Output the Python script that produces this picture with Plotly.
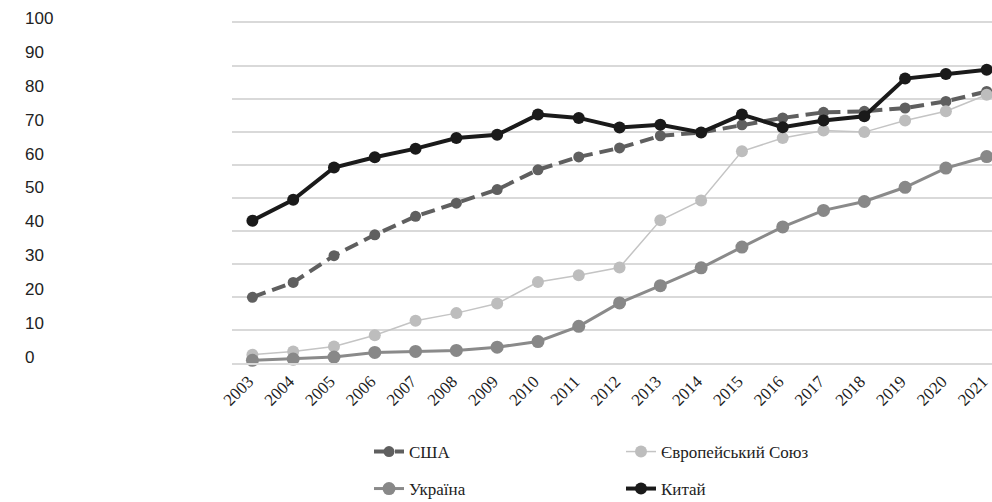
import plotly.graph_objects as go

# Years on the category axis
years = [str(y) for y in range(2003, 2022)]

# Series values (per cent)
usa = [19.9, 24.4, 32.5, 38.8, 44.4, 48.4, 52.5, 58.5, 62.4, 65.1,
       68.8, 69.8, 72.1, 74.2, 75.9, 76.2, 77.2, 79.2, 82.2]
eu = [2.5, 3.5, 5.0, 8.4, 12.8, 15.1, 18.0, 24.5, 26.6, 28.9,
      43.2, 49.2, 64.1, 68.1, 70.4, 69.9, 73.4, 76.2, 81.2]
ukraine = [0.8, 1.2, 1.8, 3.2, 3.5, 3.8, 4.8, 6.5, 11.1, 18.2,
           23.4, 28.8, 35.1, 41.2, 46.2, 48.9, 53.2, 59.0, 62.5]
china = [43.1, 49.4, 59.2, 62.3, 64.9, 68.1, 69.1, 75.2, 74.2, 71.3,
         72.1, 69.8, 75.2, 71.4, 73.4, 74.7, 86.1, 87.5, 88.8]

# Value-axis labels
y_ticks = [0, 10, 20, 30, 40, 50, 60, 70, 80, 90, 100]
grid_ticks = [0, 10, 20, 30, 40, 50, 60, 70, 80, 90]

W, H = 992, 502
SERIF = "Liberation Serif, Times New Roman, serif"
SANS = "Liberation Sans, Arial, sans-serif"
GRID = "#d9d9d9"

fig = go.Figure()

fig.add_trace(go.Scatter(
    x=years, y=usa, name="США", mode="lines+markers",
    line=dict(color="#5f5f5f", width=4, dash="14px,7px"),
    marker=dict(color="#5f5f5f", size=11),
    legend="legend", cliponaxis=False,
))
fig.add_trace(go.Scatter(
    x=years, y=eu, name="Європейський Союз", mode="lines+markers",
    line=dict(color="#c4c4c4", width=1.5),
    marker=dict(color="#bdbdbd", size=12),
    legend="legend", cliponaxis=False,
))
fig.add_trace(go.Scatter(
    x=years, y=ukraine, name="Україна", mode="lines+markers",
    line=dict(color="#8a8a8a", width=3),
    marker=dict(color="#888888", size=13),
    legend="legend2", cliponaxis=False,
))
fig.add_trace(go.Scatter(
    x=years, y=china, name="Китай", mode="lines+markers",
    line=dict(color="#1a1a1a", width=4),
    marker=dict(color="#1a1a1a", size=12),
    legend="legend2", cliponaxis=False,
))
# Carrier for the separate label axis on the far left
fig.add_trace(go.Scatter(
    x=[], y=[], xaxis="x", yaxis="y2", showlegend=False, hoverinfo="skip",
))

plot_left = 232
plot_top = 23
plot_bottom = 363

legend_common = dict(
    orientation="h", x=369 / W, xanchor="left",
    entrywidth=207, entrywidthmode="pixels",
    font=dict(family=SERIF, size=17, color="#222"),
    bgcolor="rgba(0,0,0,0)",
)

fig.update_layout(
    width=W, height=H,
    margin=dict(l=0, r=0, t=0, b=0, autoexpand=False),
    paper_bgcolor="white",
    plot_bgcolor="rgba(0,0,0,0)",
    xaxis=dict(
        domain=[plot_left / W, 1],
        type="category",
        range=[-0.5, 18.13],
        showgrid=False,
        showline=True, mirror=True, linecolor=GRID, linewidth=1.5,
        ticks="",
        tickangle=-45,
        ticklabelshift=-4,
        tickfont=dict(family=SERIF, size=17, color="#222"),
        anchor="y",
        automargin=False,
    ),
    yaxis=dict(
        domain=[1 - plot_bottom / H, 1 - plot_top / H],
        range=[0, (plot_bottom - plot_top) / 3.303],
        tickvals=grid_ticks,
        showticklabels=False,
        showgrid=True, gridcolor=GRID, gridwidth=1.5,
        zeroline=False, ticks="",
        automargin=False,
    ),
    yaxis2=dict(
        domain=[0, 1],
        range=[-42.77, 105.31],
        anchor="free",
        position=21 / W,
        tickvals=y_ticks,
        ticktext=[str(v) for v in y_ticks],
        ticklabelposition="inside",
        ticks="",
        showgrid=False, zeroline=False, showline=False,
        tickfont=dict(family=SANS, size=17, color="#222"),
        automargin=False,
    ),
    legend=dict(legend_common, y=1 - 452 / H, yanchor="middle"),
    legend2=dict(legend_common, y=1 - 489 / H, yanchor="middle"),
    showlegend=True,
)

fig.write_html("out.html")
